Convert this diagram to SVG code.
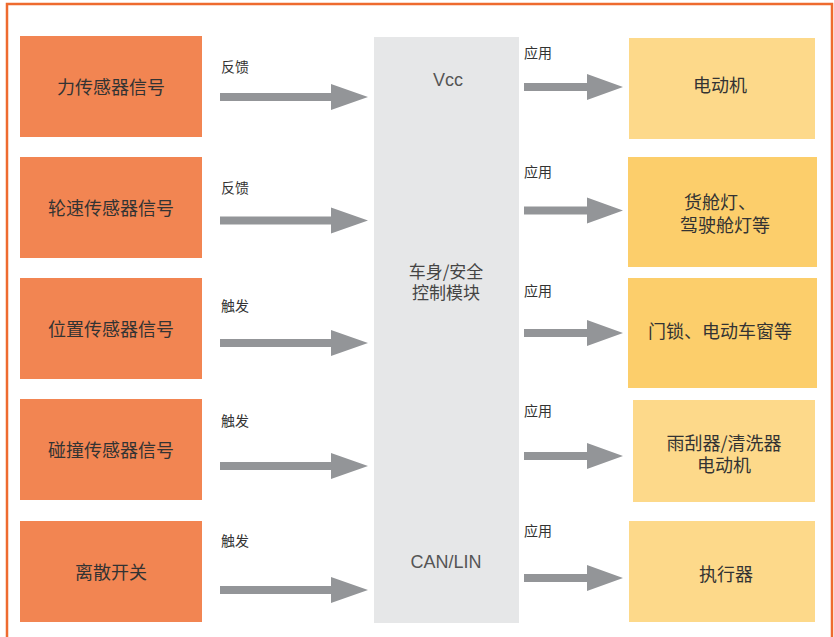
<svg xmlns="http://www.w3.org/2000/svg" width="834" height="637" viewBox="0 0 834 637">
<style>
.src{fill:#F28552}
.dst1{fill:#FDD98A}
.dst2{fill:#FCCE6B}
.mid{fill:#E6E7E8}
.t{font-family:"Noto Sans CJK SC","Noto Sans",sans-serif;font-size:18px;fill:#333;text-anchor:middle;dominant-baseline:central}
.m{font-family:"Noto Sans CJK SC","Noto Sans",sans-serif;font-size:17px;fill:#444;text-anchor:middle;dominant-baseline:central}
.e{font-family:"Liberation Sans",Arial,sans-serif;font-size:18px;fill:#555;text-anchor:middle;dominant-baseline:central}
.l{font-family:"Noto Sans CJK SC","Noto Sans",sans-serif;font-size:14px;fill:#333;dominant-baseline:central}
.arr{fill:#939598}
</style>
<rect x="0" y="0" width="834" height="637" fill="#fff"/>
<rect x="7" y="4" width="825" height="650" fill="none" stroke="#EE6B2F" stroke-width="2.5"/>
<g id="n1"><rect class="src" x="20" y="36" width="182" height="101"/><text class="t" x="111" y="86">力传感器信号</text></g>
<g id="n2"><rect class="src" x="20" y="157" width="182" height="101"/><text class="t" x="111" y="207">轮速传感器信号</text></g>
<g id="n3"><rect class="src" x="20" y="278" width="182" height="101"/><text class="t" x="111" y="328">位置传感器信号</text></g>
<g id="n4"><rect class="src" x="20" y="399" width="182" height="101"/><text class="t" x="111" y="449">碰撞传感器信号</text></g>
<g id="n5"><rect class="src" x="20" y="521" width="182" height="101"/><text class="t" x="111" y="571">离散开关</text></g>
<g id="ctrl"><rect class="mid" x="374" y="37" width="145" height="586"/>
<text class="e" x="448" y="79.5">Vcc</text>
<text class="m"><tspan x="446" y="269.5">车身/安全</tspan><tspan x="446" y="291">控制模块</tspan></text>
<text class="e" x="446" y="562">CAN/LIN</text></g>
<g id="o1"><rect class="dst1" x="629" y="38" width="186" height="101"/><text class="t" x="720" y="84">电动机</text></g>
<g id="o2"><rect class="dst2" x="628" y="157" width="189" height="110"/><text class="t"><tspan x="720" y="200.5">货舱灯、</tspan><tspan x="725" y="223.5">驾驶舱灯等</tspan></text></g>
<g id="o3"><rect class="dst2" x="628" y="278" width="189" height="110"/><text class="t" x="720" y="330">门锁、电动车窗等</text></g>
<g id="o4"><rect class="dst1" x="633" y="400" width="182" height="102"/><text class="t"><tspan x="724" y="442">雨刮器/清洗器</tspan><tspan x="724" y="464">电动机</tspan></text></g>
<g id="o5"><rect class="dst1" x="629" y="521" width="186" height="101"/><text class="t" x="726" y="572.5">执行器</text></g>
<g id="connectors">
<path class="arr" d="M220 93H331V84L368 97L331 110V101H220Z"/>
<path class="arr" d="M220 216.5H331V207.5L368 220.5L331 233.5V224.5H220Z"/>
<path class="arr" d="M220 339H331V330L368 343L331 356V347H220Z"/>
<path class="arr" d="M220 462H331V453L368 466L331 479V470H220Z"/>
<path class="arr" d="M220 586H331V577L368 590L331 603V594H220Z"/>
<path class="arr" d="M524 83H587V74L623 87L587 100V91H524Z"/>
<path class="arr" d="M524 206.5H587V197.5L623 210.5L587 223.5V214.5H524Z"/>
<path class="arr" d="M524 329H587V320L623 333L587 346V337H524Z"/>
<path class="arr" d="M524 452H587V443L623 456L587 469V460H524Z"/>
<path class="arr" d="M524 574H587V565L623 578L587 591V582H524Z"/>
<text class="l" x="221" y="66">反馈</text>
<text class="l" x="221" y="186.5">反馈</text>
<text class="l" x="221" y="304.5">触发</text>
<text class="l" x="221" y="419.5">触发</text>
<text class="l" x="221" y="539.5">触发</text>
<text class="l" x="524" y="51.5">应用</text>
<text class="l" x="524" y="171">应用</text>
<text class="l" x="524" y="290">应用</text>
<text class="l" x="524" y="410">应用</text>
<text class="l" x="524" y="529.5">应用</text>
</g>
</svg>
